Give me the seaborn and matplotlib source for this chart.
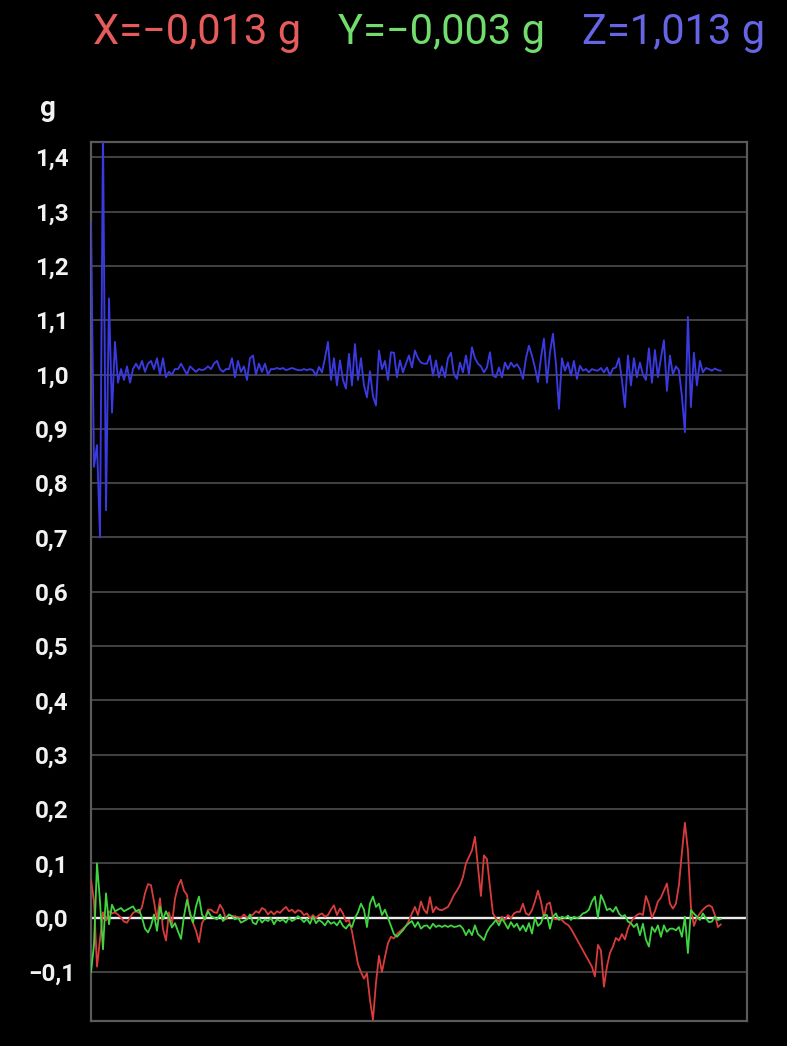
import numpy as np
import pandas as pd
import matplotlib
matplotlib.use("Agg")
import matplotlib.pyplot as plt
import seaborn as sns

# Accelerometer trace (g), one sample per step
acc_z = [
    1.28, 0.83, 0.87, 0.70, 1.45, 0.75, 1.14, 0.93, 1.06, 0.985,
    1.01, 0.99, 1.015, 0.985, 1.01, 1.02, 1.01, 1.025, 1.005, 1.02,
    1.025, 1.01, 1.03, 1.00, 1.03, 0.995, 1.005, 1.00, 1.01, 1.01,
    1.02, 1.01, 1.00, 1.015, 1.01, 1.005, 1.01, 1.008, 1.01, 1.015,
    1.01, 1.02, 1.025, 1.01, 1.005, 1.01, 1.01, 1.03, 0.995, 1.025,
    1.005, 1.015, 0.99, 1.03, 1.035, 1.00, 1.02, 1.005, 1.02, 1.00,
    1.01, 1.01, 1.012, 1.01, 1.012, 1.008, 1.01, 1.012, 1.01, 1.008,
    1.008, 1.01, 1.008, 1.01, 1.008, 0.998, 1.014, 1.004, 1.03, 1.06,
    0.99, 1.03, 0.98, 1.026, 0.99, 0.974, 1.038, 0.98, 1.056, 0.99,
    1.03, 0.98, 0.958, 1.006, 0.96, 0.943, 1.044, 1.01, 1.025, 0.99,
    1.041, 1.04, 0.995, 1.026, 1.004, 1.02, 1.035, 1.013, 1.044, 1.03,
    1.022, 1.02, 1.02, 1.035, 0.998, 1.026, 0.995, 1.015, 0.995, 1.03,
    1.04, 1.00, 0.992, 1.022, 1.004, 1.035, 1.001, 1.05, 1.03, 1.02,
    1.015, 1.004, 1.013, 1.041, 0.998, 0.995, 1.013, 0.995, 1.022, 1.01,
    1.022, 1.014, 1.019, 1.01, 0.992, 1.03, 1.053, 1.035, 1.013, 0.986,
    1.03, 1.066, 0.985, 1.04, 1.075, 1.02, 0.937, 1.03, 1.007, 1.022,
    0.998, 1.025, 0.992, 1.016, 1.007, 1.01, 1.004, 1.01, 1.008, 1.007,
    1.012, 1.004, 1.013, 0.998, 1.011, 1.013, 1.03, 0.99, 0.94, 1.035,
    0.98, 1.03, 0.995, 1.022, 1.00, 0.99, 1.048, 0.985, 1.045, 0.995,
    1.03, 1.063, 0.97, 1.035, 1.00, 1.015, 1.008, 0.96, 0.894, 1.106,
    0.94, 1.04, 0.98, 1.025, 1.004, 1.012, 1.01, 1.007, 1.011, 1.008,
    1.007,
]

acc_x = [
    0.07, 0.03, -0.09, -0.04, 0.01, -0.005, 0.012, 0.008, 0.01, 0.006,
    0.0, -0.007, -0.009, 0.0, 0.009, 0.012, 0.009, 0.02, 0.045, 0.062,
    0.06, 0.03, -0.003, 0.036, -0.021, -0.042, 0.01, -0.012, 0.035, 0.058,
    0.07, 0.05, 0.042, 0.006, -0.009, -0.024, -0.045, -0.01, 0.0, 0.015,
    0.015, 0.01, 0.009, 0.024, 0.015, -0.003, 0.006, 0.003, 0.003, 0.001,
    0.0, 0.006, 0.0, 0.003, 0.006, 0.012, 0.009, 0.018, 0.015, 0.006,
    0.012, 0.006, 0.012, 0.009, 0.015, 0.02, 0.012, 0.015, 0.009, 0.014,
    0.012, 0.005, 0.008, -0.001, 0.005, -0.001, 0.005, 0.008, 0.002, 0.005,
    0.015, 0.023, 0.005, 0.017, 0.008, -0.007, -0.004, -0.025, -0.055, -0.085,
    -0.1, -0.112, -0.102, -0.151, -0.188, -0.12, -0.07, -0.1, -0.072, -0.047,
    -0.035, -0.038, -0.03, -0.025, -0.02, -0.015, -0.005, 0.008, 0.02, 0.005,
    0.03, 0.015, 0.008, 0.038, 0.01, 0.02, 0.015, 0.014, 0.017, 0.02,
    0.03, 0.042, 0.05, 0.06, 0.075, 0.1, 0.112, 0.124, 0.149, 0.094,
    0.04, 0.115, 0.108, 0.057, 0.008, -0.001, -0.007, 0.002, -0.004, 0.005,
    -0.001, 0.008, 0.011, 0.011, 0.026, 0.008, 0.005, 0.014, 0.03, 0.05,
    0.03, 0.0, 0.025, 0.028, 0.0, -0.003, -0.002, -0.004, -0.01, -0.013,
    -0.02, -0.03, -0.04, -0.05, -0.06, -0.07, -0.08, -0.09, -0.108, -0.05,
    -0.06, -0.127, -0.09, -0.065, -0.053, -0.037, -0.042, -0.03, -0.04, -0.02,
    -0.008, 0.0, 0.005, 0.008, 0.005, 0.04, 0.025, 0.0, 0.012, 0.03,
    0.037, 0.05, 0.063, 0.026, 0.017, 0.026, 0.06, 0.12, 0.175, 0.124,
    0.02, -0.015, 0.0, 0.008, 0.015, 0.02, 0.023, 0.02, 0.005, -0.017,
    -0.012,
]

acc_y = [
    -0.1, -0.05, 0.1, 0.03, -0.058, 0.045, -0.012, 0.024, 0.012, 0.015,
    0.018, 0.012, 0.015, 0.018, 0.021, 0.012, 0.015, 0.0, -0.02, -0.027,
    -0.015, 0.006, -0.024, 0.021, -0.003, 0.012, 0.0, -0.018, -0.01, -0.025,
    -0.039, 0.003, 0.033, 0.009, -0.009, 0.021, 0.039, 0.006, -0.003, 0.012,
    0.003, 0.0, -0.003, 0.006, -0.006, 0.0, 0.006, 0.003, -0.003, 0.0,
    -0.009, -0.006, -0.003, 0.006, -0.009, -0.012, 0.0, -0.009, -0.003, -0.006,
    0.0, -0.012, -0.003, -0.006, -0.003, -0.009, 0.0, -0.006, -0.003, 0.003,
    -0.002, -0.008, -0.002, -0.011, 0.002, -0.01, -0.004, -0.008, -0.014, -0.005,
    -0.011, -0.008, -0.014, -0.005, -0.015, -0.02, -0.012, -0.017, 0.0, 0.01,
    0.026, 0.015, -0.017, 0.026, 0.039, 0.02, 0.026, 0.005, 0.015, 0.0,
    -0.015, -0.03, -0.035, -0.029, -0.023, -0.015, -0.01, -0.006, -0.017, -0.008,
    -0.02, -0.015, -0.014, -0.02, -0.011, -0.017, -0.014, -0.017, -0.014, -0.017,
    -0.014, -0.017, -0.016, -0.014, -0.02, -0.032, -0.022, -0.032, -0.014, -0.03,
    -0.035, -0.041, -0.026, -0.017, -0.011, -0.004, -0.014, -0.001, -0.01, -0.02,
    -0.008, -0.017, -0.011, -0.023, -0.014, -0.025, -0.01, -0.029, 0.0, -0.015,
    -0.01, 0.005, 0.005, -0.02, 0.002, 0.008, -0.004, 0.002, -0.001, 0.004,
    -0.004, 0.002, -0.001, 0.002, 0.008, 0.01, 0.015, 0.03, 0.039, 0.0,
    0.042, 0.03, 0.014, 0.017, 0.011, 0.02, 0.008, 0.002, 0.005, -0.007,
    -0.01, -0.017, -0.011, -0.032, -0.011, -0.04, -0.053, -0.017, -0.026, -0.014,
    -0.035, -0.014, -0.026, -0.02, -0.02, -0.023, -0.017, -0.035, 0.002, -0.065,
    0.014, 0.008, 0.002, -0.004, 0.008, -0.001, -0.008, -0.007, 0.002, -0.004,
    -0.002,
]

y_ticks = [1.4, 1.3, 1.2, 1.1, 1.0, 0.9, 0.8, 0.7, 0.6, 0.5, 0.4, 0.3, 0.2, 0.1, 0.0, -0.1]
readout = [("X=\u22120,013 g", "#e65c5c"), ("Y=\u22120,003 g", "#72dd6c"), ("Z=1,013 g", "#6565e6")]

df = pd.DataFrame({"t": np.arange(len(acc_z)), "x": acc_x, "y": acc_y, "z": acc_z})

sns.set_theme(style="dark")
plt.rcParams["font.family"] = ["Roboto", "DejaVu Sans"]

fig = plt.figure(figsize=(7.87, 10.46), dpi=100, facecolor="black")
ax = fig.add_axes([91 / 787, 1 - 1021 / 1046, 656 / 787, 879 / 1046])
ax.set_facecolor("black")

# horizontal grid, zero line highlighted
for v in y_ticks:
    if v == 0.0:
        ax.axhline(v, color="#ececec", lw=1.7, zorder=1)
    else:
        ax.axhline(v, color="#484848", lw=1.3, zorder=1)

sns.lineplot(data=df, x="t", y="z", ax=ax, color="#3a3ae0", lw=1.35, zorder=3)
sns.lineplot(data=df, x="t", y="x", ax=ax, color="#d83c3c", lw=1.3, zorder=3)
sns.lineplot(data=df, x="t", y="y", ax=ax, color="#40d440", lw=1.3, zorder=4)

ax.set_xlim(0, 218.7)
ax.set_ylim(-0.19, 1.428)
ax.set_xticks([])
ax.set_yticks(y_ticks)
ax.set_yticklabels([f"{v:.1f}".replace(".", ",").replace("-", "\u2212") for v in y_ticks])
ax.tick_params(axis="y", length=0, pad=28, labelsize=17.5, labelcolor="#f2f2f2")
for lab in ax.get_yticklabels():
    lab.set_horizontalalignment("center")
    lab.set_fontweight("bold")
ax.set_xlabel("")
ax.set_ylabel("")
ax.grid(False)
for sp in ax.spines.values():
    sp.set_visible(True)
    sp.set_color("#5a5a5a")
    sp.set_linewidth(1.6)

fig.text(48 / 787, 1 - 108 / 1046, "g", color="#f2f2f2", fontsize=20,
         fontweight="bold", ha="center", va="center")

xs = [93, 338, 582]
for (txt, col), x0 in zip(readout, xs):
    fig.text(x0 / 787, 1 - 33 / 1046, txt, color=col, fontsize=30,
             ha="left", va="center")

fig.savefig("out.png", dpi=100, facecolor="black")
